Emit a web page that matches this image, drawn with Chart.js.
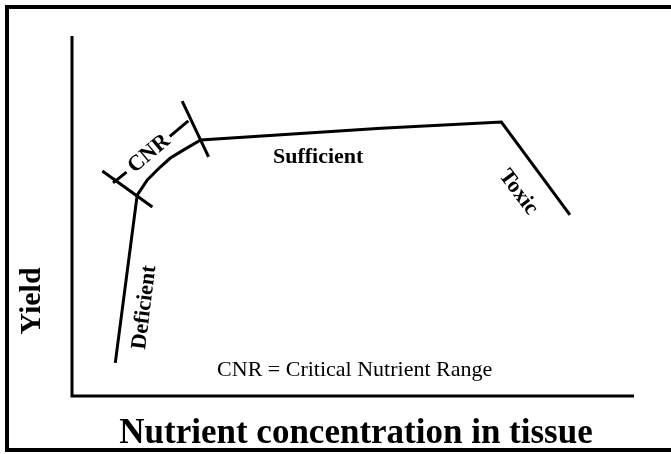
<!DOCTYPE html>
<html>
<head>
<meta charset="utf-8">
<script src="https://cdn.jsdelivr.net/npm/chart.js@4.4.1/dist/chart.umd.min.js"></script>
<style>
  html, body { margin: 0; padding: 0; background: #fff; }
  canvas { display: block; }
</style>
</head>
<body>
<canvas id="yieldChart" width="671" height="454"></canvas>
<script>
// response curve (x = nutrient concentration, y = yield), arbitrary units 0-100
const curveX = [7.7, 11.6, 13.4, 15.7, 17.5, 19.8, 22.9, 55.0, 76.4, 88.6];
const curveY = [9.2, 55.8, 60.0, 63.6, 66.1, 68.3, 71.1, 74.4, 76.1, 50.3];

// short cross marks bounding the critical range
const lowTickX = [5.4, 14.3];
const lowTickY = [62.5, 52.5];
const highTickX = [19.6, 24.3];
const highTickY = [81.9, 66.4];

// CNR bracket pieces either side of the label
const bracketAX = [7.3, 9.7];
const bracketAY = [59.2, 62.2];
const bracketBX = [17.4, 20.7];
const bracketBY = [72.1, 76.4];

const labelTexts = ['Deficient', 'CNR', 'Sufficient', 'Toxic'];
const labelX = [12.9, 13.7, 43.8, 79.4];
const labelY = [24.6, 67.3, 66.4, 56.6];
const labelAngle = [-83, -40, 0, 53];

const noteText = 'CNR = Critical Nutrient Range';
const noteX = 50.3;
const noteY = 7.2;

const xTitle = 'Nutrient concentration in tissue';
const yTitle = 'Yield';

function pts(xs, ys) {
    return xs.map((x, i) => ({ x: x, y: ys[i] }));
}

function segment(xs, ys, width) {
    return {
        data: pts(xs, ys),
        showLine: true,
        borderColor: '#000',
        borderWidth: width,
        pointRadius: 0,
        tension: 0
    };
}

const frameAndText = {
    id: 'frameAndText',
    afterDraw: function (chart) {
        const ctx = chart.ctx;
        const area = chart.chartArea;
        const xs = chart.scales.x, ys = chart.scales.y;
        ctx.save();
        ctx.strokeStyle = '#000';
        ctx.lineCap = 'butt';

        // outer frame
        ctx.lineWidth = 4;
        ctx.beginPath();
        ctx.moveTo(671, 7);
        ctx.lineTo(7, 7);
        ctx.lineTo(7, 450);
        ctx.lineTo(671, 450);
        ctx.stroke();

        // axes
        ctx.lineWidth = 3;
        ctx.beginPath();
        ctx.moveTo(area.left, area.top);
        ctx.lineTo(area.left, area.bottom);
        ctx.lineTo(area.right, area.bottom);
        ctx.stroke();

        ctx.fillStyle = '#000';
        ctx.textAlign = 'center';
        ctx.textBaseline = 'middle';
        ctx.font = 'bold 22px "Liberation Serif", serif';
        labelTexts.forEach((t, i) => {
            ctx.save();
            ctx.translate(xs.getPixelForValue(labelX[i]), ys.getPixelForValue(labelY[i]));
            ctx.rotate(labelAngle[i] * Math.PI / 180);
            ctx.fillText(t, 0, 0);
            ctx.restore();
        });

        ctx.font = '22px "Liberation Serif", serif';
        ctx.fillText(noteText, xs.getPixelForValue(noteX), ys.getPixelForValue(noteY));

        ctx.font = 'bold 35px "Liberation Serif", serif';
        ctx.textBaseline = 'alphabetic';
        ctx.fillText(xTitle, 356, 443);
        ctx.textBaseline = 'middle';
        ctx.font = 'bold 30px "Liberation Serif", serif';
        ctx.save();
        ctx.translate(32, 301);
        ctx.rotate(-Math.PI / 2);
        ctx.fillText(yTitle, 0, 0);
        ctx.restore();
        ctx.restore();
    }
};

new Chart(document.getElementById('yieldChart'), {
    type: 'scatter',
    data: {
        datasets: [
            segment(curveX, curveY, 3),
            segment(lowTickX, lowTickY, 3),
            segment(highTickX, highTickY, 3),
            segment(bracketAX, bracketAY, 3),
            segment(bracketBX, bracketBY, 3)
        ]
    },
    options: {
        responsive: false,
        animation: false,
        layout: { padding: { left: 72, top: 36, right: 37, bottom: 58 } },
        plugins: { legend: { display: false }, tooltip: { enabled: false } },
        scales: {
            x: { type: 'linear', min: 0, max: 100, display: false },
            y: { type: 'linear', min: 0, max: 100, display: false }
        }
    },
    plugins: [frameAndText]
});
</script>
</body>
</html>
